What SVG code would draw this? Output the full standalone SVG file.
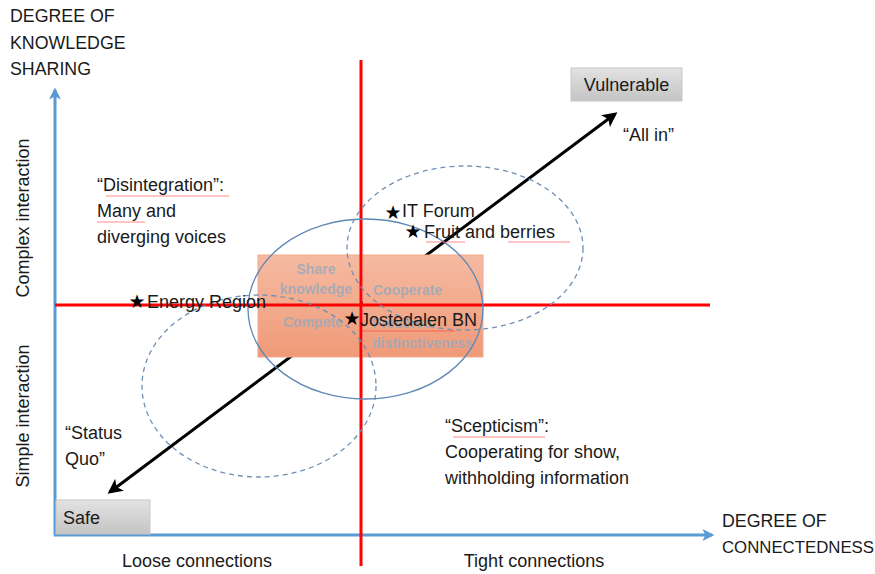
<svg xmlns="http://www.w3.org/2000/svg" width="875" height="574" viewBox="0 0 875 574">
<defs>
<style>
.t{font-family:"Liberation Sans",Arial,sans-serif;font-size:18px;fill:#1a1a1a}
.ax{font-family:"Liberation Sans",Arial,sans-serif;font-size:17.8px;fill:#1a1a1a}
.star{font-family:"DejaVu Sans",sans-serif;font-size:19px;fill:#000}
.in{font-family:"Liberation Sans",Arial,sans-serif;font-size:14px;font-weight:bold;fill:#9aaabb;fill-opacity:0.85}
.red{stroke:#ff0000;stroke-width:3;fill:none}
.blue{stroke:#5b9bd5;stroke-width:3;fill:none}
.dash{stroke:#6f8fb5;stroke-width:1.3;fill:none;stroke-dasharray:5 4}
.solid{stroke:#5f87b5;stroke-width:1.3;fill:none}
.spell{stroke:#ff3030;stroke-width:0.8;fill:none;opacity:0.7}
</style>
<linearGradient id="gray" x1="0" y1="0" x2="0" y2="1">
<stop offset="0" stop-color="#e2e2e2"/><stop offset="1" stop-color="#c4c4c4"/>
</linearGradient>
<linearGradient id="org" x1="0" y1="0" x2="0" y2="1">
<stop offset="0" stop-color="#f5baa2"/><stop offset="1" stop-color="#ef9a78"/>
</linearGradient>
<marker id="bh" viewBox="0 0 10 10" refX="8" refY="5" markerWidth="5" markerHeight="5" orient="auto-start-reverse" markerUnits="strokeWidth">
<path d="M0,0 L10,5 L0,10 L2.5,5 z" fill="#000"/>
</marker>
<marker id="blh" viewBox="0 0 10 10" refX="8" refY="5" markerWidth="4" markerHeight="4" orient="auto" markerUnits="strokeWidth">
<path d="M0,0 L10,5 L0,10 L2.5,5 z" fill="#5b9bd5"/>
</marker>
</defs>

<g id="connectors">
<line id="y-axis" class="blue" x1="55" y1="535" x2="55" y2="90" marker-end="url(#blh)"/>
<line id="x-axis" class="blue" x1="54" y1="535" x2="712" y2="535" marker-end="url(#blh)"/>
<line id="diag" x1="110" y1="492" x2="615" y2="114" stroke="#000" stroke-width="3" marker-start="url(#bh)" marker-end="url(#bh)"/>
</g>

<g id="core">
<rect x="258" y="255" width="103" height="102" fill="url(#org)" stroke="#f3a98c" stroke-width="1"/>
<rect x="363" y="255" width="120" height="102" fill="url(#org)" stroke="#f3a98c" stroke-width="1"/>
<text class="in" x="316" y="274" text-anchor="middle">Share</text>
<text class="in" x="316" y="294" text-anchor="middle">knowledge</text>
<text class="in" x="373" y="295">Cooperate</text>
<text class="in" x="283" y="327">Compete</text>
<text class="in" x="372" y="328">Preserve</text>
<text class="in" x="372" y="348">distinctiveness</text>
</g>

<g id="quadrant-lines">
<line class="red" x1="361" y1="60" x2="361" y2="566"/>
<line class="red" x1="55" y1="305" x2="710" y2="305"/>
</g>

<g id="ellipses">
<ellipse class="solid" cx="365.5" cy="309" rx="117.5" ry="90"/>
<ellipse class="dash" cx="465" cy="248" rx="118" ry="82"/>
<ellipse class="dash" cx="259" cy="386" rx="117" ry="91"/>
</g>

<g id="axis-labels">
<text class="ax" x="10" y="22">DEGREE OF</text>
<text class="ax" x="10" y="49">KNOWLEDGE</text>
<text class="ax" x="10" y="75">SHARING</text>
<text class="ax" x="722" y="527">DEGREE OF</text>
<text class="ax" x="722" y="553" style="font-size:16.8px">CONNECTEDNESS</text>
<text class="t" transform="translate(29,218) rotate(-90)" text-anchor="middle">Complex interaction</text>
<text class="t" transform="translate(29,416) rotate(-90)" text-anchor="middle">Simple interaction</text>
<text class="t" x="197" y="567" text-anchor="middle">Loose connections</text>
<text class="t" x="534" y="567" text-anchor="middle">Tight connections</text>
</g>

<g id="vulnerable">
<rect x="571" y="68" width="111" height="33" fill="url(#gray)" stroke="#c8c8c8"/>
<text class="t" x="626.5" y="91" text-anchor="middle">Vulnerable</text>
</g>
<g id="safe">
<rect x="56" y="500" width="94" height="34" fill="url(#gray)" stroke="#c8c8c8"/>
<text class="t" x="63" y="524">Safe</text>
</g>

<g id="all-in"><text class="t" x="623" y="141">“All in”</text></g>
<g id="disintegration">
<text class="t" x="97" y="191">“Disintegration”:</text>
<text class="t" x="97" y="217">Many and</text>
<text class="t" x="97" y="243">diverging voices</text>
<path class="spell" d="M106,196 H229 M97,222 H145"/>
</g>
<g id="scepticism">
<text class="t" x="445" y="432">“Scepticism”:</text>
<text class="t" x="445" y="458">Cooperating for show,</text>
<text class="t" x="445" y="484">withholding information</text>
<path class="spell" d="M453,437 H545"/>
</g>
<g id="status-quo">
<text class="t" x="65" y="439">“Status</text>
<text class="t" x="65" y="465">Quo”</text>
</g>

<g id="it-forum"><text class="star" x="393" y="219" text-anchor="middle">★</text><text class="t" x="402" y="217">IT Forum</text></g>
<g id="fruit"><text class="star" x="413" y="238" text-anchor="middle">★</text><text class="t" x="424" y="238">Fruit and berries</text>
<path class="spell" d="M426,242 H465 M508,242 H570"/></g>
<g id="energy"><text class="star" x="137" y="308" text-anchor="middle">★</text><text class="t" x="147" y="308">Energy Region</text></g>
<g id="jostedalen"><text class="star" x="352" y="325" text-anchor="middle">★</text><text class="t" x="360" y="326">Jostedalen BN</text>
<path class="spell" d="M362,331 H455"/></g>
</svg>
